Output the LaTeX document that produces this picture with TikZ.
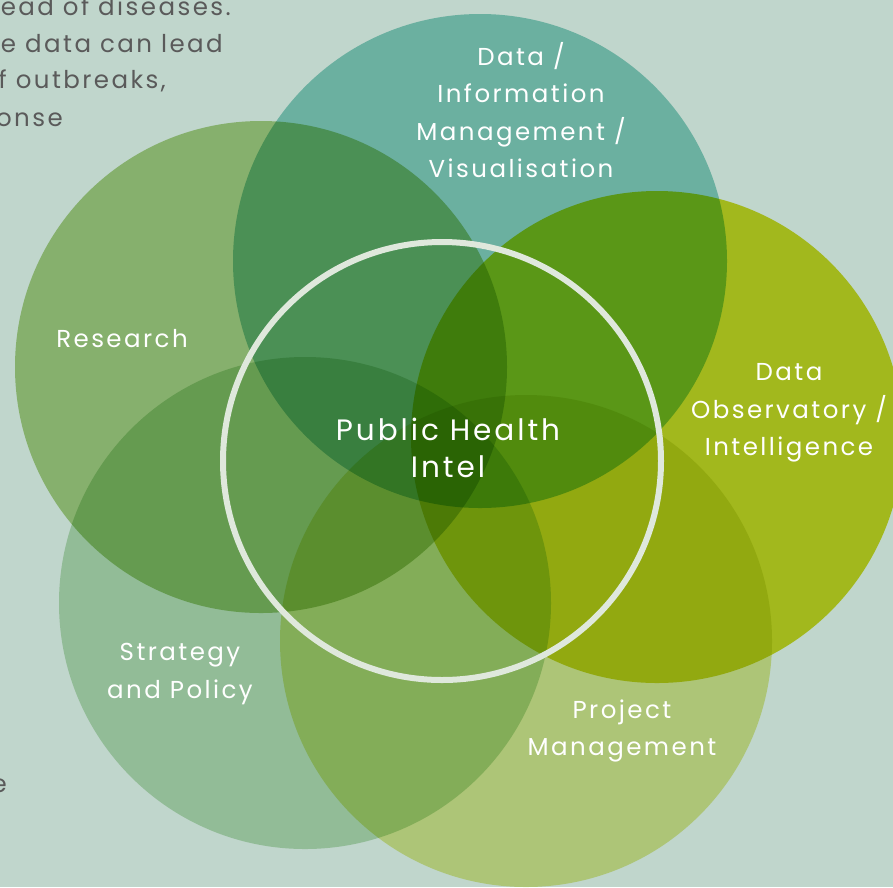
\documentclass[tikz,border=0pt]{standalone}
\usepackage{fontspec}
\setmainfont[LetterSpace=10]{Poppins}
\definecolor{bgc}{RGB}{192,214,204}
\definecolor{cres}{RGB}{178,210,137}
\definecolor{cteal}{RGB}{143,210,200}
\definecolor{cobs}{RGB}{216,220,37}
\definecolor{cstr}{RGB}{194,225,189}
\definecolor{cproj}{RGB}{230,235,149}
\definecolor{ringc}{RGB}{223,232,220}
\definecolor{greytxt}{RGB}{90,90,90}
\tikzset{
  blob/.style={blend mode=multiply},
  lbl/.style={text=white, align=center, font=\fontsize{24.5}{37.5}\selectfont, inner sep=0pt},
  side/.style={text=greytxt, font=\fontsize{24.5}{37}\selectfont, inner sep=0pt, anchor=base east},
}
\begin{document}
\begin{tikzpicture}[x=1pt,y=-1pt]
\path[use as bounding box] (0,0) rectangle (893,887);
\fill[bgc] (0,0) rectangle (893,887);
\begin{scope}
\clip (0,0) rectangle (893,887);
\fill[cres,blob] (261,367) circle[radius=246];
\fill[cteal,blob] (480,261) circle[radius=247];
\fill[cobs,blob] (657,437) circle[radius=246];
\fill[cstr,blob] (305,603) circle[radius=246];
\fill[cproj,blob] (526,641) circle[radius=246];
\draw[ringc, line width=6pt] (442,461) circle[radius=219];
\node[side] (t1) at (231,15) {ead of diseases.};
\node[side] (t2) at (223,52) {e data can lead};
\node[side] (t3) at (166,88) {f outbreaks,};
\node[side] (t4) at (63,126) {onse};
\node[side] (t5) at (7,792) {e};
\end{scope}
\node[lbl] (dim) at (521,110) {Data /\\Information\\Management /\\Visualisation};
\node[lbl] (res) at (122,339) {Research};
\node[lbl] (obs) at (789,413) {Data\\Observatory /\\Intelligence};
\node[lbl] (str) at (180,674) {Strategy\\and Policy};
\node[lbl] (prj) at (622,731) {Project\\Management};
\node[lbl, font=\fontsize{29.5}{37}\selectfont] (phi) at (448,448) {Public Health\\Intel};
\end{tikzpicture}
\end{document}
